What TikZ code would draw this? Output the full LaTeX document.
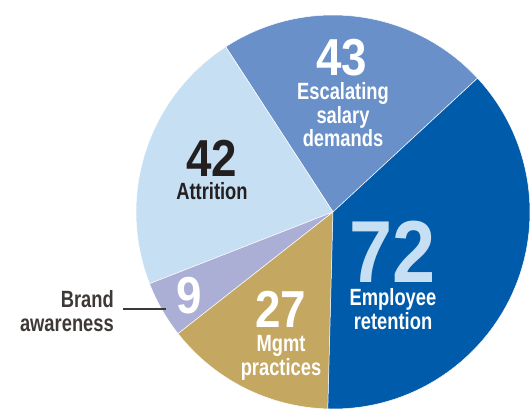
\documentclass[tikz,border=0pt]{standalone}
\usepackage{fontspec}
\newfontfamily\numfont{Liberation Sans}[FakeStretch=0.88]
\newfontfamily\labfont{Liberation Sans}[FakeStretch=0.78]
\definecolor{salaryblue}{HTML}{6990C9}
\definecolor{retainblue}{HTML}{005BAA}
\definecolor{attrblue}{HTML}{C7DFF2}
\definecolor{brandlilac}{HTML}{ABAFD6}
\definecolor{mgmtgold}{HTML}{C4A862}
\definecolor{inkdark}{HTML}{231F20}
\definecolor{inkgray}{HTML}{3E3936}
\tikzset{
  bignum/.style={font=\numfont\bfseries\fontsize{52}{52}\selectfont, inner sep=0, anchor=base},
  slicelab/.style={font=\labfont\bfseries\fontsize{23.5}{23.5}\selectfont, align=center, inner sep=0, anchor=base},
  leader/.style={draw=inkgray, line width=2pt}
}
\begin{document}
\begin{tikzpicture}[x=1pt,y=1pt]
\useasboundingbox (0,0) rectangle (531,408);
\def\pierad{197}
\coordinate (c) at (333,196);
    \begin{scope}
      \clip (0,0) rectangle (531,408);
      % slices: start angle / end angle / colour
      \foreach \from/\to/\col in {42.8/123.0/salaryblue, 123.0/201.34/attrblue,
          201.34/218.13/brandlilac, 218.13/268.5/mgmtgold, 268.5/402.8/retainblue}
        \fill[\col, draw=white, line width=0.5pt] (c) -- ++(\from:\pierad)
          arc[start angle=\from, end angle=\to, radius=\pierad] -- cycle;
    \end{scope}
% labels (base = last line)
\node[bignum, text=white] (n43) at (342,332) {43};
\node[slicelab, text=white] (l43) at (343,261) {Escalating\\salary\\demands};
\node[bignum, text=inkdark] (n42) at (212,232) {42};
\node[slicelab, text=inkdark] (l42) at (212,209) {Attrition};
\node[bignum, text=attrblue, font=\numfont\bfseries\fontsize{88}{88}\selectfont] (n72) at (393,126) {72};
\node[slicelab, text=white] (l72) at (393,79) {Employee\\retention};
\node[bignum, text=white] (n9) at (189,95) {9};
\node[bignum, text=white] (n27) at (281,81) {27};
\node[slicelab, text=white] (l27) at (281,33) {Mgmt\\practices};
\node[slicelab, text=inkgray, align=right, anchor=base east] (brand) at (114,77) {Brand\\awareness};
\coordinate (brandtip) at (166,99);
\draw[leader] (brand.east |- brandtip) ++(9pt,0) -- (brandtip);
\end{tikzpicture}
\end{document}
